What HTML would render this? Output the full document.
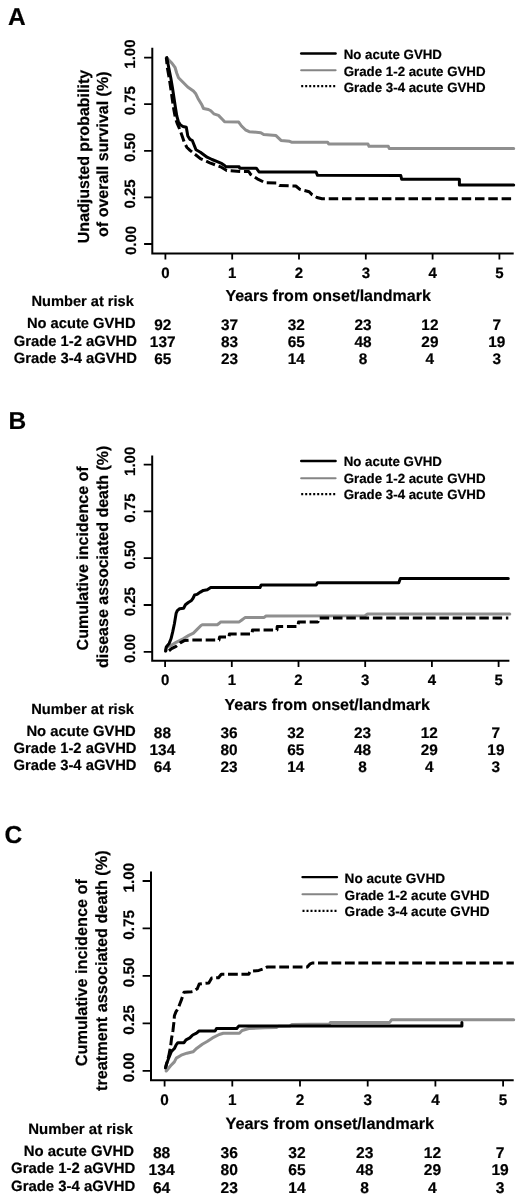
<!DOCTYPE html>
<html><head><meta charset="utf-8"><style>
html,body{margin:0;padding:0;background:#fff;width:520px;height:1200px;overflow:hidden}
svg{display:block;will-change:transform;filter:blur(0.35px)}
text{font-family:"Liberation Sans", sans-serif;font-weight:bold;fill:#000;text-rendering:geometricPrecision;stroke:#000;stroke-width:0.2px}
.ax{fill:none;stroke:#000;stroke-width:2}
.tk{fill:none;stroke:#000;stroke-width:1.8}
.lk{stroke:#000;stroke-width:2.4;stroke-linecap:round}
.lg{stroke:#858585;stroke-width:2.1;stroke-linecap:round}
.ldt{stroke:#000;stroke-width:2.2;stroke-dasharray:2 2}
.ck{fill:none;stroke-linecap:round;stroke-linejoin:round;stroke:#000;stroke-width:3}
.cg{fill:none;stroke-linecap:round;stroke-linejoin:round;stroke:#8f8f8f;stroke-width:3}
.cd{fill:none;stroke-linecap:butt;stroke-linejoin:round;stroke:#000;stroke-width:3}
</style></head><body>
<svg width="520" height="1200" viewBox="0 0 520 1200">
<text x="8" y="24.5" font-size="24.5" text-anchor="start">A</text>
<path d="M152.3 47.8V253.4H513.7" class="ax"/>
<path d="M144.1 244H152.3M144.1 197.4H152.3M144.1 150.8H152.3M144.1 104.2H152.3M144.1 57.6H152.3M165.4 253.4V259.6M232.2 253.4V259.6M299 253.4V259.6M365.8 253.4V259.6M432.6 253.4V259.6M499.4 253.4V259.6" class="tk"/>
<text x="135.5" y="240.5" font-size="15" text-anchor="middle" transform="rotate(-90 135.5 240.5)">0.00</text>
<text x="135.5" y="193.9" font-size="15" text-anchor="middle" transform="rotate(-90 135.5 193.9)">0.25</text>
<text x="135.5" y="147.3" font-size="15" text-anchor="middle" transform="rotate(-90 135.5 147.3)">0.50</text>
<text x="135.5" y="100.7" font-size="15" text-anchor="middle" transform="rotate(-90 135.5 100.7)">0.75</text>
<text x="135.5" y="54.1" font-size="15" text-anchor="middle" transform="rotate(-90 135.5 54.1)">1.00</text>
<text x="165.4" y="277.7" font-size="15" text-anchor="middle">0</text>
<text x="232.2" y="277.7" font-size="15" text-anchor="middle">1</text>
<text x="299" y="277.7" font-size="15" text-anchor="middle">2</text>
<text x="365.8" y="277.7" font-size="15" text-anchor="middle">3</text>
<text x="432.6" y="277.7" font-size="15" text-anchor="middle">4</text>
<text x="499.4" y="277.7" font-size="15" text-anchor="middle">5</text>
<text x="89" y="243.2" font-size="16" text-anchor="start" transform="rotate(-90 89 243.2)">Unadjusted probability</text>
<text x="108.5" y="236.9" font-size="16" text-anchor="start" transform="rotate(-90 108.5 236.9)">of overall survival (%)</text>
<path d="M301.2 53.5H335.6" class="lk"/>
<text x="343.7" y="58.8" font-size="13.3" text-anchor="start">No acute GVHD</text>
<path d="M301.2 70.2H335.6" class="lg"/>
<text x="343.7" y="75.6" font-size="13.3" text-anchor="start">Grade 1-2 acute GVHD</text>
<path d="M301.2 86.2H335.6" class="ldt"/>
<text x="343.7" y="91.5" font-size="13.3" text-anchor="start">Grade 3-4 acute GVHD</text>
<text x="225.4" y="301.2" font-size="16" text-anchor="start">Years from onset/landmark</text>
<text x="133.9" y="306" font-size="14.63" text-anchor="end">Number at risk</text>
<text x="135.6" y="328.2" font-size="14.71" text-anchor="end">No acute GVHD</text>
<text x="162.7" y="329.5" font-size="15.4" text-anchor="middle">92</text>
<text x="229.5" y="329.5" font-size="15.4" text-anchor="middle">37</text>
<text x="296.3" y="329.5" font-size="15.4" text-anchor="middle">32</text>
<text x="363.1" y="329.5" font-size="15.4" text-anchor="middle">23</text>
<text x="429.9" y="329.5" font-size="15.4" text-anchor="middle">12</text>
<text x="496.7" y="329.5" font-size="15.4" text-anchor="middle">7</text>
<text x="137" y="345.5" font-size="14.81" text-anchor="end">Grade 1-2 aGVHD</text>
<text x="162.7" y="346.8" font-size="15.4" text-anchor="middle">137</text>
<text x="229.5" y="346.8" font-size="15.4" text-anchor="middle">83</text>
<text x="296.3" y="346.8" font-size="15.4" text-anchor="middle">65</text>
<text x="363.1" y="346.8" font-size="15.4" text-anchor="middle">48</text>
<text x="429.9" y="346.8" font-size="15.4" text-anchor="middle">29</text>
<text x="496.7" y="346.8" font-size="15.4" text-anchor="middle">19</text>
<text x="137" y="362.5" font-size="14.81" text-anchor="end">Grade 3-4 aGVHD</text>
<text x="162.7" y="364.2" font-size="15.4" text-anchor="middle">65</text>
<text x="229.5" y="364.2" font-size="15.4" text-anchor="middle">23</text>
<text x="296.3" y="364.2" font-size="15.4" text-anchor="middle">14</text>
<text x="363.1" y="364.2" font-size="15.4" text-anchor="middle">8</text>
<text x="429.9" y="364.2" font-size="15.4" text-anchor="middle">4</text>
<text x="496.7" y="364.2" font-size="15.4" text-anchor="middle">3</text>
<path d="M166.5 57.6 L171.5 62.7 L175 67.3 L176.7 73 L178.5 77.7 L183 82.3 L187.7 87 L193.4 91 L195.8 93.8 L198 98.4 L201.5 104.2 L203.5 108.5 L208.4 109.5 L210.8 110.8 L213.8 113.8 L218.5 115.4 L223 120 L224.6 121.8 L238.7 122.1 L241.5 126 L245.4 129.8 L249.2 131.7 L260.8 132.7 L263.7 134.6 L276 135.6 L281 140.4 L289.6 141.3 L291.5 142.2 L327.7 142.2 L328.7 144 L368 144 L369 146.3 L388.3 146.3 L389.2 148.5 L513.7 148.5" class="cg"/>
<path d="M166.8 57.6 L168.8 68 L170.8 78 L172.5 88 L174 98 L175.5 108 L176.8 116 L178.3 121.5 L180.5 125 L183 126.5 L186.3 127.3 L187.8 136 L190 139.3 L192.3 140.5 L194.3 145.5 L196 149.8 L200.4 152.2 L207.1 157.2 L212 159.5 L217.9 161.9 L222 163.7 L224.6 165.5 L226 166.8 L239.2 166.8 L239.6 168.2 L256.3 168.2 L259 171.9 L316 171.9 L317.5 175.3 L400.8 175.5 L401.7 179.3 L459.4 179.3 L459.4 185 L513.7 185" class="ck"/>
<path d="M166.3 57.6 L167.4 68 L169.2 78 L171 90 L172.4 100 L173.9 110 L175.4 118 L177.4 124 L179.6 129 L182.3 136.5 L184.5 143 L187 147.5 L190 150.3 L193.6 153.2 L200.4 158.6 L209.8 162.8 L220.6 166.8 L226.7 170.5 L241.5 171.5 L248.7 171.5 L250.6 174.4 L257.3 178.8 L265 182.7 L276.5 183 L279.4 185.4 L295.8 186 L299.6 189.2 L309.2 191.7 L312 194.6 L317 197.5 L322 198.8 L511.3 198.8" class="cd" stroke-dasharray="9.5 3.8" stroke-dashoffset="3.08"/>
<text x="8.5" y="429.3" font-size="24.5" text-anchor="start">B</text>
<path d="M152.2 455.6V660.8H509.4" class="ax"/>
<path d="M143.7 651.8H152.2M143.7 605H152.2M143.7 558.2H152.2M143.7 511.4H152.2M143.7 464.6H152.2M165.1 660.8V667M231.8 660.8V667M298.5 660.8V667M365.2 660.8V667M431.9 660.8V667M498.6 660.8V667" class="tk"/>
<text x="135.3" y="648.5" font-size="15" text-anchor="middle" transform="rotate(-90 135.3 648.5)">0.00</text>
<text x="135.3" y="601.7" font-size="15" text-anchor="middle" transform="rotate(-90 135.3 601.7)">0.25</text>
<text x="135.3" y="554.9" font-size="15" text-anchor="middle" transform="rotate(-90 135.3 554.9)">0.50</text>
<text x="135.3" y="508.1" font-size="15" text-anchor="middle" transform="rotate(-90 135.3 508.1)">0.75</text>
<text x="135.3" y="461.3" font-size="15" text-anchor="middle" transform="rotate(-90 135.3 461.3)">1.00</text>
<text x="165.1" y="685.2" font-size="15" text-anchor="middle">0</text>
<text x="231.8" y="685.2" font-size="15" text-anchor="middle">1</text>
<text x="298.5" y="685.2" font-size="15" text-anchor="middle">2</text>
<text x="365.2" y="685.2" font-size="15" text-anchor="middle">3</text>
<text x="431.9" y="685.2" font-size="15" text-anchor="middle">4</text>
<text x="498.6" y="685.2" font-size="15" text-anchor="middle">5</text>
<text x="88.5" y="650.4" font-size="16" text-anchor="start" transform="rotate(-90 88.5 650.4)">Cumulative incidence of</text>
<text x="108.5" y="667.9" font-size="16" text-anchor="start" transform="rotate(-90 108.5 667.9)">disease associated death (%)</text>
<path d="M301.2 461H335.6" class="lk"/>
<text x="343.7" y="466.3" font-size="13.3" text-anchor="start">No acute GVHD</text>
<path d="M301.2 478.3H335.6" class="lg"/>
<text x="343.7" y="483" font-size="13.3" text-anchor="start">Grade 1-2 acute GVHD</text>
<path d="M301.2 494.2H335.6" class="ldt"/>
<text x="343.7" y="499" font-size="13.3" text-anchor="start">Grade 3-4 acute GVHD</text>
<text x="224.5" y="709.5" font-size="16" text-anchor="start">Years from onset/landmark</text>
<text x="134" y="714" font-size="14.68" text-anchor="end">Number at risk</text>
<text x="135.8" y="735.6" font-size="14.8" text-anchor="end">No acute GVHD</text>
<text x="162.4" y="737.5" font-size="15.4" text-anchor="middle">88</text>
<text x="229.1" y="737.5" font-size="15.4" text-anchor="middle">36</text>
<text x="295.8" y="737.5" font-size="15.4" text-anchor="middle">32</text>
<text x="362.5" y="737.5" font-size="15.4" text-anchor="middle">23</text>
<text x="429.2" y="737.5" font-size="15.4" text-anchor="middle">12</text>
<text x="495.9" y="737.5" font-size="15.4" text-anchor="middle">7</text>
<text x="136.5" y="753" font-size="14.75" text-anchor="end">Grade 1-2 aGVHD</text>
<text x="162.4" y="754.8" font-size="15.4" text-anchor="middle">134</text>
<text x="229.1" y="754.8" font-size="15.4" text-anchor="middle">80</text>
<text x="295.8" y="754.8" font-size="15.4" text-anchor="middle">65</text>
<text x="362.5" y="754.8" font-size="15.4" text-anchor="middle">48</text>
<text x="429.2" y="754.8" font-size="15.4" text-anchor="middle">29</text>
<text x="495.9" y="754.8" font-size="15.4" text-anchor="middle">19</text>
<text x="136.5" y="770.2" font-size="14.75" text-anchor="end">Grade 3-4 aGVHD</text>
<text x="162.4" y="772.2" font-size="15.4" text-anchor="middle">64</text>
<text x="229.1" y="772.2" font-size="15.4" text-anchor="middle">23</text>
<text x="295.8" y="772.2" font-size="15.4" text-anchor="middle">14</text>
<text x="362.5" y="772.2" font-size="15.4" text-anchor="middle">8</text>
<text x="429.2" y="772.2" font-size="15.4" text-anchor="middle">4</text>
<text x="495.9" y="772.2" font-size="15.4" text-anchor="middle">3</text>
<path d="M165.6 651 L166.3 647.5 L170.4 645.7 L176.1 642.3 L183.1 638.8 L188.8 635.4 L193.4 633.1 L196.9 629.6 L201 625.5 L202.3 624.8 L217.3 624.8 L219.6 623 L220.8 621.9 L239.2 621.9 L241.5 620.2 L245 617.6 L264.2 617.4 L266 616 L365 615.8 L367.5 614 L509.8 614" class="cg"/>
<path d="M165.6 651 L166.3 647 L169.2 643.4 L171 638.8 L172.7 631.9 L174.4 623.8 L176.1 613.4 L177.3 610.6 L179.6 608.8 L183.6 608.3 L185.4 604.8 L188.3 602.5 L191.1 600.8 L192.9 598.5 L194.6 595 L196.9 594.4 L200.4 592.1 L203.3 590.4 L207.3 589.8 L210.7 587.5 L260 587.5 L261.2 585 L316.2 585 L317.5 582.7 L398.8 582.7 L400.3 578.5 L508.3 578.5" class="ck"/>
<path d="M165.6 651 L166.9 649.2 L168.7 651 L171.5 648.6 L176.1 646.3 L180.2 642.9 L184.2 640.6 L190.6 640 L219 640 L219.6 637 L229 637 L229.4 634 L252 634 L252.5 630 L277 630 L277.2 626.6 L298 626.5 L298.5 622.1 L318 622 L319 617.9 L508.3 617.9" class="cd" stroke-dasharray="9.5 3.8" stroke-dashoffset="8.16"/>
<text x="4.6" y="843.4" font-size="24.5" text-anchor="start">C</text>
<path d="M151 871.5V1080.2H513.7" class="ax"/>
<path d="M142.6 1070.8H151M142.6 1023.35H151M142.6 975.9H151M142.6 928.45H151M142.6 881H151M164.6 1080.2V1086.5M232.3 1080.2V1086.5M300 1080.2V1086.5M367.7 1080.2V1086.5M435.4 1080.2V1086.5M503.1 1080.2V1086.5" class="tk"/>
<text x="134.2" y="1067.3" font-size="15.3" text-anchor="middle" transform="rotate(-90 134.2 1067.3)">0.00</text>
<text x="134.2" y="1019.85" font-size="15.3" text-anchor="middle" transform="rotate(-90 134.2 1019.85)">0.25</text>
<text x="134.2" y="972.4" font-size="15.3" text-anchor="middle" transform="rotate(-90 134.2 972.4)">0.50</text>
<text x="134.2" y="924.95" font-size="15.3" text-anchor="middle" transform="rotate(-90 134.2 924.95)">0.75</text>
<text x="134.2" y="877.5" font-size="15.3" text-anchor="middle" transform="rotate(-90 134.2 877.5)">1.00</text>
<text x="164.6" y="1104.8" font-size="15.3" text-anchor="middle">0</text>
<text x="232.3" y="1104.8" font-size="15.3" text-anchor="middle">1</text>
<text x="300" y="1104.8" font-size="15.3" text-anchor="middle">2</text>
<text x="367.7" y="1104.8" font-size="15.3" text-anchor="middle">3</text>
<text x="435.4" y="1104.8" font-size="15.3" text-anchor="middle">4</text>
<text x="503.1" y="1104.8" font-size="15.3" text-anchor="middle">5</text>
<text x="86.8" y="1066.3" font-size="16.3" text-anchor="start" transform="rotate(-90 86.8 1066.3)">Cumulative incidence of</text>
<text x="107" y="1091" font-size="16.3" text-anchor="start" transform="rotate(-90 107 1091)">treatment associated death (%)</text>
<path d="M302.5 877.1H337" class="lk"/>
<text x="344.6" y="882.9" font-size="13.6" text-anchor="start">No acute GVHD</text>
<path d="M302.5 894.2H337" class="lg"/>
<text x="344.6" y="899.6" font-size="13.6" text-anchor="start">Grade 1-2 acute GVHD</text>
<path d="M302.5 910.8H337" class="ldt"/>
<text x="344.6" y="916" font-size="13.6" text-anchor="start">Grade 3-4 acute GVHD</text>
<text x="225.5" y="1129.25" font-size="16.25" text-anchor="start">Years from onset/landmark</text>
<text x="132.85" y="1134" font-size="14.95" text-anchor="end">Number at risk</text>
<text x="134.1" y="1156" font-size="14.95" text-anchor="end">No acute GVHD</text>
<text x="161.6" y="1157.8" font-size="15.6" text-anchor="middle">88</text>
<text x="229.3" y="1157.8" font-size="15.6" text-anchor="middle">36</text>
<text x="297" y="1157.8" font-size="15.6" text-anchor="middle">32</text>
<text x="364.7" y="1157.8" font-size="15.6" text-anchor="middle">23</text>
<text x="432.4" y="1157.8" font-size="15.6" text-anchor="middle">12</text>
<text x="500.1" y="1157.8" font-size="15.6" text-anchor="middle">7</text>
<text x="135.3" y="1173.4" font-size="14.91" text-anchor="end">Grade 1-2 aGVHD</text>
<text x="161.6" y="1175.3" font-size="15.6" text-anchor="middle">134</text>
<text x="229.3" y="1175.3" font-size="15.6" text-anchor="middle">80</text>
<text x="297" y="1175.3" font-size="15.6" text-anchor="middle">65</text>
<text x="364.7" y="1175.3" font-size="15.6" text-anchor="middle">48</text>
<text x="432.4" y="1175.3" font-size="15.6" text-anchor="middle">29</text>
<text x="500.1" y="1175.3" font-size="15.6" text-anchor="middle">19</text>
<text x="135.3" y="1191" font-size="14.91" text-anchor="end">Grade 3-4 aGVHD</text>
<text x="161.6" y="1192.8" font-size="15.6" text-anchor="middle">64</text>
<text x="229.3" y="1192.8" font-size="15.6" text-anchor="middle">23</text>
<text x="297" y="1192.8" font-size="15.6" text-anchor="middle">14</text>
<text x="364.7" y="1192.8" font-size="15.6" text-anchor="middle">8</text>
<text x="432.4" y="1192.8" font-size="15.6" text-anchor="middle">4</text>
<text x="500.1" y="1192.8" font-size="15.6" text-anchor="middle">3</text>
<path d="M166.2 1071 L166.7 1070.6 L170.6 1065.8 L174.4 1061.9 L176.3 1058.1 L181.2 1055.2 L186.9 1053.2 L193 1051.8 L196.9 1048.2 L202.3 1044.2 L207.1 1041.5 L212.5 1037.9 L219.2 1034.5 L223.3 1033.2 L239.4 1033.2 L242.1 1030.5 L248.8 1028.5 L265 1027.8 L276.5 1027.5 L278.5 1026.3 L290 1026 L292 1024.4 L329.5 1024 L330.4 1022.5 L389.6 1022.5 L391.5 1019.8 L513.7 1019.8" class="cg"/>
<path d="M165.5 1068 L166.3 1064.8 L168.7 1058.1 L171.5 1051.3 L174.4 1048.5 L176.3 1044.6 L177.8 1042.7 L184 1042.7 L186 1039.8 L189.8 1037.9 L192.7 1035 L196.5 1033.1 L199 1031 L215.2 1030.9 L216.5 1028.5 L236.7 1028.5 L238.7 1026.1 L461.9 1026.1 L461.9 1022.6" class="ck"/>
<path d="M165.5 1068 L166.3 1064.8 L168.7 1056.2 L170.6 1046.5 L171.5 1038.8 L173 1030.2 L174 1021.5 L174.4 1015.8 L175.9 1011.9 L178.3 1008.1 L179.7 1004.2 L181.6 999.4 L183.1 994.6 L184 992.3 L191.5 991.8 L193.2 991.5 L197.3 988.7 L199.2 984 L208.8 983 L211.7 978.1 L218.5 977.7 L221.3 974.3 L248.7 974.3 L250.2 971.3 L258.8 970.4 L264.6 968.5 L266.9 967.1 L307.3 967.1 L310.2 963.8 L312.1 963.1 L513.8 963.1" class="cd" stroke-dasharray="9.8 3.66" stroke-dashoffset="3.52"/>
</svg>
</body></html>
